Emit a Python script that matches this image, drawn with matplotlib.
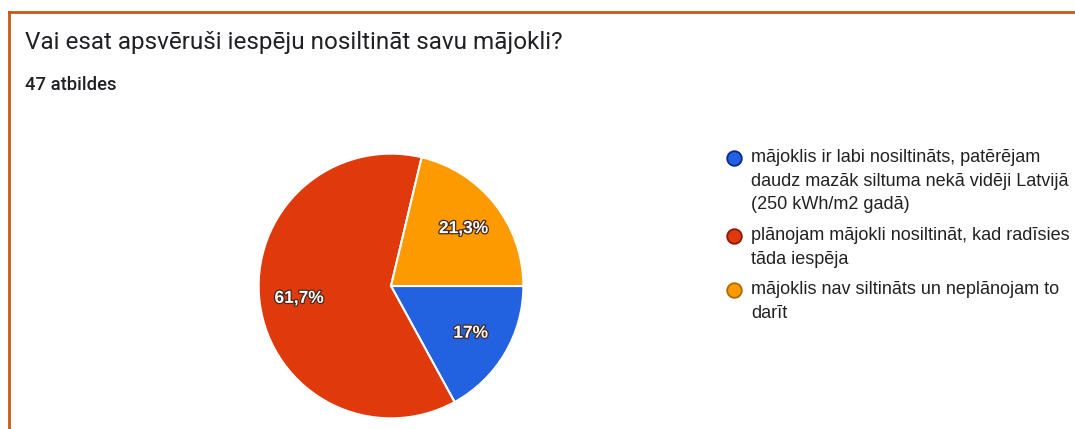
import matplotlib.pyplot as plt
import matplotlib.patheffects as pe
from matplotlib.lines import Line2D

# dati
virsraksts = "Vai esat apsvēruši iespēju nosiltināt savu mājokli?"
atbildes = "47 atbildes"
kategorijas = [
    "mājoklis ir labi nosiltināts, patērējam\ndaudz mazāk siltuma nekā vidēji Latvijā\n(250 kWh/m2 gadā)",
    "plānojam mājokli nosiltināt, kad radīsies\ntāda iespēja",
    "mājoklis nav siltināts un neplānojam to\ndarīt",
]
skaits = [8, 29, 10]
krasas = ['#2262e0', '#e03a0c', '#fd9a00']
malas = ['#0b2a8a', '#8a1a05', '#b06800']

W, H = 1075, 429
fig = plt.figure(figsize=(W / 100, H / 100), dpi=100)
fig.patch.set_facecolor('white')


def fx(px):
    return px / W


def fy(py):
    return 1 - py / H


# rāmis (oranžā mala augšā un kreisajā pusē)
fig.add_artist(Line2D([fx(8.5), 1], [fy(11.5), fy(11.5)], color='#c9561a', lw=2))
fig.add_artist(Line2D([fx(8.5), fx(8.5)], [0, fy(11.5)], color='#c9561a', lw=2))

fig.text(fx(25), fy(43), virsraksts, fontsize=17.5, family='Roboto', color='#202124', va='center')
fig.text(fx(25), fy(85), atbildes, fontsize=13.3, family='Roboto', fontweight='medium',
         color='#202124', va='center')

# pīrāgs
cx, cy, r = 391, 286, 135
ax = fig.add_axes([fx(cx - r), fy(cy + r), 2 * r / W, 2 * r / H])


def fmt(p):
    s = f"{p:.1f}".rstrip('0').rstrip('.')
    return s.replace('.', ',') + '%'


wedges, texts, autotexts = ax.pie(
    skaits,
    colors=krasas,
    startangle=0,
    counterclock=False,
    autopct=fmt,
    pctdistance=0.7,
    radius=1,
    wedgeprops=dict(edgecolor='white', linewidth=1.5),
)
for t in autotexts:
    t.set_color('white')
    t.set_fontsize(12.5)
    t.set_fontweight('bold')
    t.set_family('Liberation Sans')
    t.set_path_effects([pe.withStroke(linewidth=1.8, foreground='#4a2a1a')])
ax.set_xlim(-1.02, 1.02)
ax.set_ylim(-1.02, 1.02)
ax.set_aspect('equal')
ax.axis('off')

# leģenda
y = 158
for kat, kr, m in zip(kategorijas, krasas, malas):
    fig.add_artist(Line2D([fx(734)], [fy(y)], marker='o', markersize=10.5,
                          markerfacecolor=kr, markeredgecolor=m, markeredgewidth=1.3, lw=0))
    for rinda in kat.split('\n'):
        fig.text(fx(751), fy(y), rinda, fontsize=13, family='Liberation Sans',
                 color='#222222', va='center')
        y += 23.5
    y += 7

plt.savefig('out.png', dpi=100, facecolor='white')
